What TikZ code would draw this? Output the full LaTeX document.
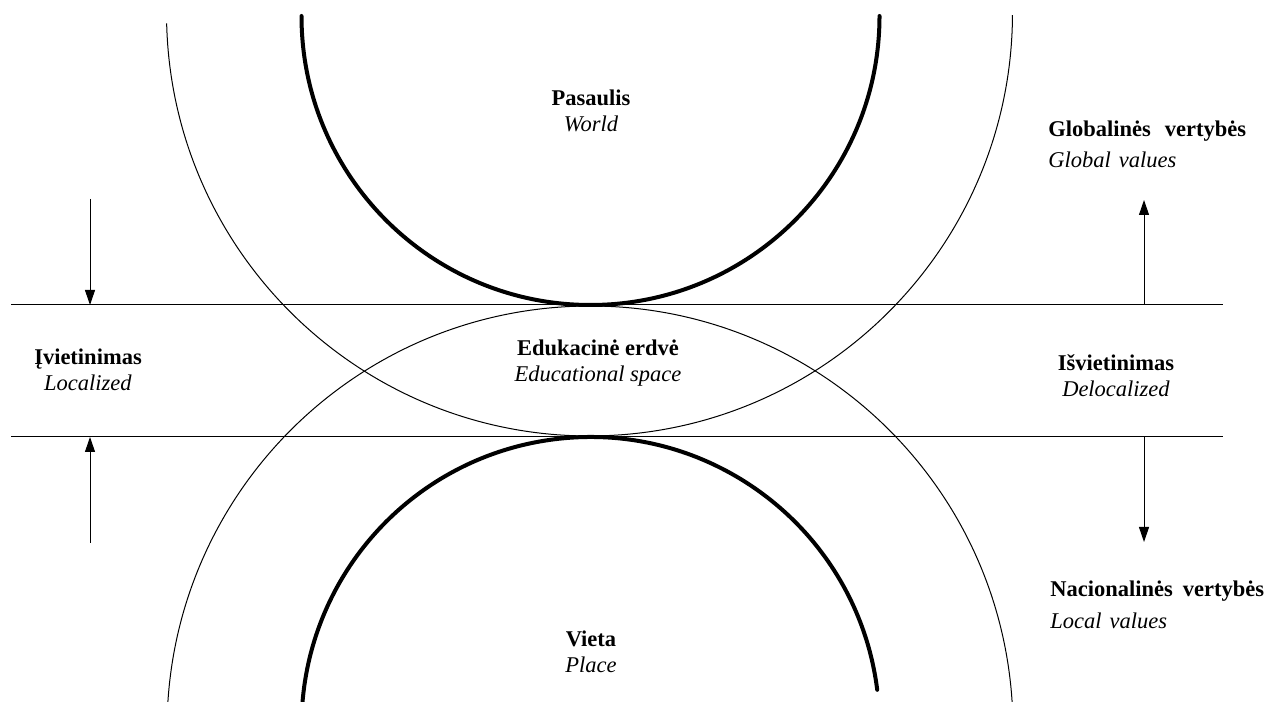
\documentclass[tikz,border=0pt]{standalone}
\usepackage{fontspec}
\setmainfont{Liberation Serif}
\usetikzlibrary{arrows.meta}
\tikzset{
    region label/.style={align=center, font=\fontsize{11.25}{13}\selectfont, inner sep=0pt, anchor=base},
    value label/.style={align=left, font=\fontsize{11.25}{15.5}\selectfont, inner sep=0pt, anchor=base west},
    rim thick/.style={line width=2pt, line cap=round},
    rim thin/.style={line width=0.5pt},
    band line/.style={line width=0.5pt},
    flow arrow/.style={-{Triangle[length=7.5pt, width=5pt]}, line width=0.5pt},
}
\begin{document}
\begin{tikzpicture}[x=0.5pt, y=0.5pt]
\useasboundingbox (0,0) rectangle (1267,701);
% centres of the circles
\coordinate (world c) at (590.5,685);
\coordinate (globe c) at (589.5,688);
\coordinate (place c) at (590.5,-25);
\coordinate (nation c) at (590,-28);
% circles
\draw[rim thick] (world c) ++(180:289) arc[start angle=180, end angle=360, radius=289];
\draw[rim thin] (globe c) ++(181.4:423) arc[start angle=181.4, end angle=359.7, radius=423];
\draw[rim thick] (place c) ++(7.2:289) arc[start angle=7.2, end angle=175.5, radius=289];
\draw[rim thin] (nation c) ++(3.5:423) arc[start angle=3.5, end angle=176.5, radius=423];
% band
\coordinate (top l) at (11,396);
\coordinate (top r) at (1223,396);
\coordinate (bot l) at (11,264);
\coordinate (bot r) at (1223,264);
\draw[band line] (top l) -- (top r);
\draw[band line] (bot l) -- (bot r);
% arrows
\coordinate (loc a) at (90,502);
\coordinate (loc a tip) at (90,396);
\coordinate (loc b) at (90,158);
\coordinate (loc b tip) at (90,264);
\coordinate (deloc a) at (1144,396);
\coordinate (deloc a tip) at (1144,501);
\coordinate (deloc b) at (1144,264);
\coordinate (deloc b tip) at (1144,159);
\draw[flow arrow] (loc a) -- (loc a tip);
\draw[flow arrow] (loc b) -- (loc b tip);
\draw[flow arrow] (deloc a) -- (deloc a tip);
\draw[flow arrow] (deloc b) -- (deloc b tip);
% labels
\node[region label] (world) at (591,569) {\textbf{Pasaulis}\\\textit{World}};
\node[region label] (edu) at (598,319) {\textbf{Edukacinė erdvė}\\\textit{Educational space}};
\node[region label] (place) at (591,29) {\textbf{Vieta}\\\textit{Place}};
\node[region label] (localized) at (88,310) {\textbf{Įvietinimas}\\\textit{Localized}};
\node[region label] (delocalized) at (1116,304) {\textbf{Išvietinimas}\\\textit{Delocalized}};
\node[value label] (global) at (1048,533) {\textbf{Globalinės\hspace{7pt}vertybės}\\\textit{Global\hspace{4pt}values}};
\node[value label] (local) at (1050,73) {\textbf{Nacionalinės\hspace{5pt}vertybės}\\\textit{Local\hspace{4pt}values}};
\end{tikzpicture}
\end{document}
